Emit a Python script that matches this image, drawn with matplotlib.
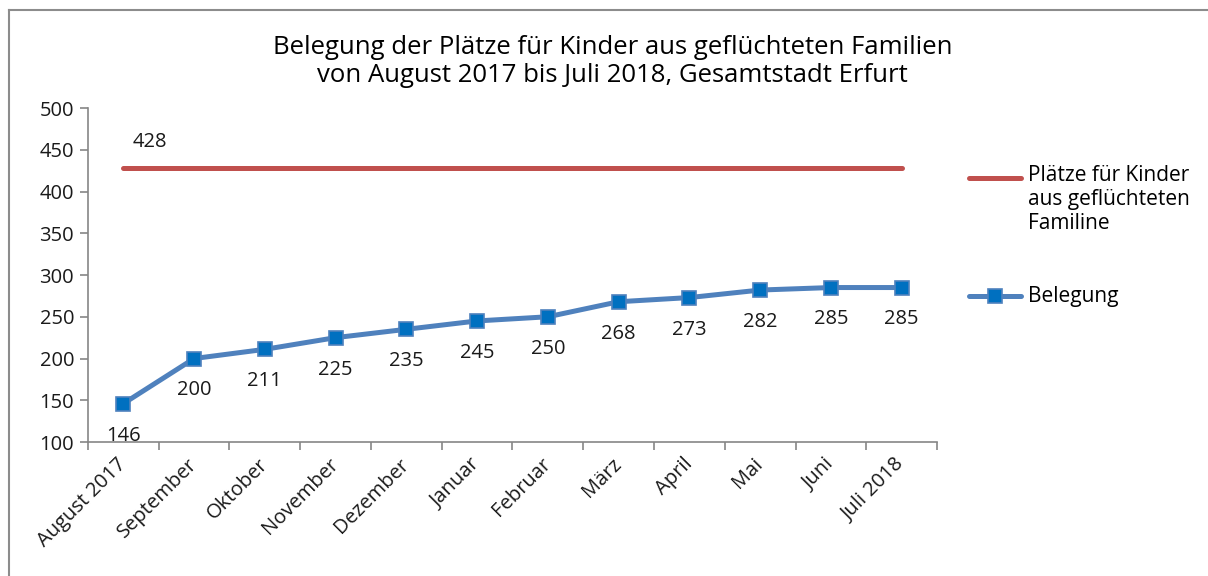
import matplotlib.pyplot as plt
from matplotlib.lines import Line2D

plt.rcParams["font.family"] = ["Open Sans", "DejaVu Sans"]

months = ["August 2017", "September", "Oktober", "November", "Dezember", "Januar",
          "Februar", "März", "April", "Mai", "Juni", "Juli 2018"]
belegung = [146, 200, 211, 225, 235, 245, 250, 268, 273, 282, 285, 285]
plaetze = [428] * 12
plaetze_label = "Plätze für Kinder\naus geflüchteten\nFamiline"
belegung_label = "Belegung"

red = "#C0504D"
blue_line = "#4F81BD"
blue_marker = "#0070C0"
axis_grey = "#868686"
text_col = "#1a1a1a"

fig = plt.figure(figsize=(12.08, 5.76), dpi=100)
ax = fig.add_axes([0.0728, 0.2326, 0.7029, 0.5799])

x = range(len(months))
ax.plot(x, plaetze, color=red, linewidth=3.6, solid_capstyle="round", zorder=3)
ax.plot(x, belegung, color=blue_line, linewidth=3.6, marker="s", markersize=10,
        markerfacecolor=blue_marker, markeredgecolor=blue_line, markeredgewidth=1.2,
        zorder=4)

for i, v in enumerate(belegung):
    ax.annotate(str(v), (i, v), xytext=(0, -23), textcoords="offset points",
                ha="center", va="center", fontsize=14.5, color=text_col)
ax.annotate(str(plaetze[0]), (0, plaetze[0]), xytext=(19, 19), textcoords="offset points",
            ha="center", va="center", fontsize=14.5, color=text_col)

ax.set_xlim(-0.5, len(months) - 0.5)
ax.set_ylim(100, 500)
ax.set_yticks(range(100, 501, 50))
ax.set_xticks([i + 0.5 for i in range(-1, len(months))], minor=False)
ax.set_xticklabels([])
ax.set_xticks(list(x), minor=True)
ax.set_xticklabels(months, minor=True, rotation=45, ha="right", va="center",
                   rotation_mode="anchor", fontsize=14.5, color=text_col)
ax.tick_params(axis="x", which="major", length=6, width=1.2, color=axis_grey, direction="out")
ax.tick_params(axis="x", which="minor", length=0, pad=14)
ax.tick_params(axis="y", length=6, width=1.2, color=axis_grey, labelsize=14.5,
               labelcolor=text_col, pad=4)

for side in ["top", "right"]:
    ax.spines[side].set_visible(False)
for side in ["left", "bottom"]:
    ax.spines[side].set_color(axis_grey)
    ax.spines[side].set_linewidth(1.2)

fig.text(0.507, 0.893, "Belegung der Plätze für Kinder aus geflüchteten Familien\n"
         "von August 2017 bis Juli 2018, Gesamtstadt Erfurt",
         ha="center", va="center", fontsize=18.5, fontweight="medium", linespacing=1.15)

# legend on the right, Excel style
fig.add_artist(Line2D([0.802, 0.845], [0.691, 0.691], color=red, linewidth=3.6,
                      solid_capstyle="round", transform=fig.transFigure))
fig.text(0.851, 0.714, plaetze_label, ha="left", va="top", fontsize=15,
         linespacing=1.2)
fig.add_artist(Line2D([0.802, 0.845], [0.486, 0.486], color=blue_line, linewidth=3.6,
                      solid_capstyle="round", transform=fig.transFigure))
fig.add_artist(Line2D([0.8235], [0.486], marker="s", markersize=10,
                      markerfacecolor=blue_marker, markeredgecolor=blue_line,
                      markeredgewidth=1.2, transform=fig.transFigure))
fig.text(0.851, 0.486, belegung_label, ha="left", va="center", fontsize=15)

# outer chart frame (top and left edges visible)
fig.add_artist(Line2D([0.0075, 0.0075], [0.0, 0.983], color="#8c8c8c", linewidth=1.5,
                      transform=fig.transFigure))
fig.add_artist(Line2D([0.0075, 1.0], [0.983, 0.983], color="#8c8c8c", linewidth=1.5,
                      transform=fig.transFigure))

fig.savefig("out.png", dpi=100)
